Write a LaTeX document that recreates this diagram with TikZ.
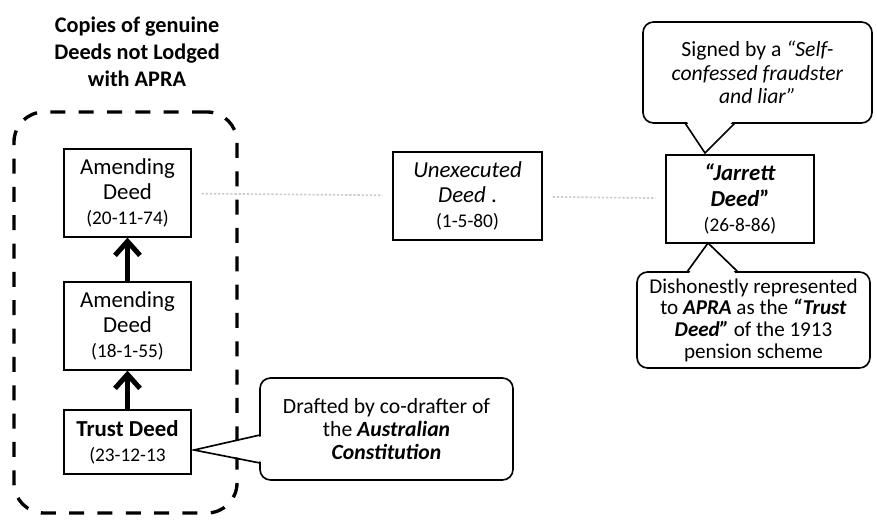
\documentclass[tikz,border=0pt]{standalone}
\usepackage{fontspec}
\setmainfont{Carlito}
\usetikzlibrary{arrows.meta}

\newcommand\datefont{\fontsize{16.5}{18}\selectfont}

\begin{document}
\begin{tikzpicture}[
  x=0.3mm, y=-0.3mm,
  >={Straight Barb[length=4.2mm, width=7.5mm]},
  deed/.style={draw, line width=1.1pt, minimum width=38.1mm, minimum height=26.4mm,
    inner sep=0pt, align=center, font=\fontsize{19.5}{21.5}\selectfont},
  bubble/.style={draw, line width=1.4pt, rounded corners=9pt, inner sep=0pt,
    align=center, fill=white, font=\fontsize{18.5}{20}\selectfont},
  pointer/.style={line width=1.4pt, line join=miter},
  dashframe/.style={draw, line width=1mm, dash pattern=on 4.5mm off 4mm, rounded corners=9mm,
    minimum width=66.9mm, minimum height=120.3mm},
  faintlink/.style={draw=black!20, line width=1.4pt, dash pattern=on 2pt off 1.5pt,
    shorten <=3mm, shorten >=3mm},
  uparrow/.style={->, line width=1.5mm},
]
\useasboundingbox (0,0) rectangle (877,520);

% left group: genuine deeds
\node[font=\bfseries\fontsize{19}{23}\selectfont, align=center] (title) at (137,52)
  {Copies of genuine\\ Deeds not Lodged\\ with APRA};
\node[dashframe] (group) at (125.5,312.5) {};
\node[deed] (amend2) at (127.5,193) {Amending\\ Deed\\ {\datefont (20-11-74)}};
\node[deed] (amend1) at (127.5,326) {Amending\\ Deed\\ {\datefont (18-1-55)}};
\node[deed, minimum height=19.2mm] (trust) at (127.5,442) {\textbf{Trust Deed}\\ {\datefont (23-12-13}};
\draw[uparrow] (trust) -- (amend1);
\draw[uparrow] (amend1) -- (amend2);

% later deeds
\node[deed, minimum width=44.7mm] (unexec) at (467.5,196)
  {\textit{Unexecuted}\\ \textit{Deed} .\\ {\datefont (1-5-80)}};
\node[deed, minimum width=44.4mm] (jarrett) at (740,199)
  {\textbf{\textit{“Jarrett}}\\ \textbf{\textit{Deed}”}\\ {\datefont (26-8-86)}};
\draw[faintlink] (amend2) -- (unexec);
\draw[faintlink] (unexec) -- (jarrett);

% callouts
\node[bubble, minimum width=68.7mm, minimum height=30.3mm] (signed) at (757.5,72.5)
  {Signed by a \textit{“Self-}\\ \textit{confessed fraudster}\\ \textit{and liar”}};
\coordinate (signedtip) at (705,153);
\fill[white] (686,120) -- (signedtip) -- (734,120) -- cycle;
\draw[pointer] (685,123) -- (signedtip) -- (735,123);

\node[bubble, minimum width=69.9mm, minimum height=28.8mm, font=\fontsize{18}{18.5}\selectfont]
  (dishonest) at (753.5,320)
  {Dishonestly represented\\ to \textbf{\textit{APRA}} as the \textbf{\textit{“Trust}}\\
   \textbf{\textit{Deed”}} of the 1913\\ pension scheme};
\coordinate (dishonesttip) at (708,243);
\fill[white] (688,275) -- (dishonesttip) -- (737,275) -- cycle;
\draw[pointer] (687,272) -- (dishonesttip) -- (738,272);

\node[bubble, minimum width=75.9mm, minimum height=30.6mm] (drafted) at (386.5,429)
  {Drafted by co-drafter of\\ the \textbf{\textit{Australian}}\\ \textbf{\textit{Constitution}}};
\coordinate (draftedtip) at (194,450);
\fill[white] (263,436) -- (draftedtip) -- (263,462) -- cycle;
\draw[pointer] (260,435) -- (draftedtip) -- (260,463);
\end{tikzpicture}
\end{document}
